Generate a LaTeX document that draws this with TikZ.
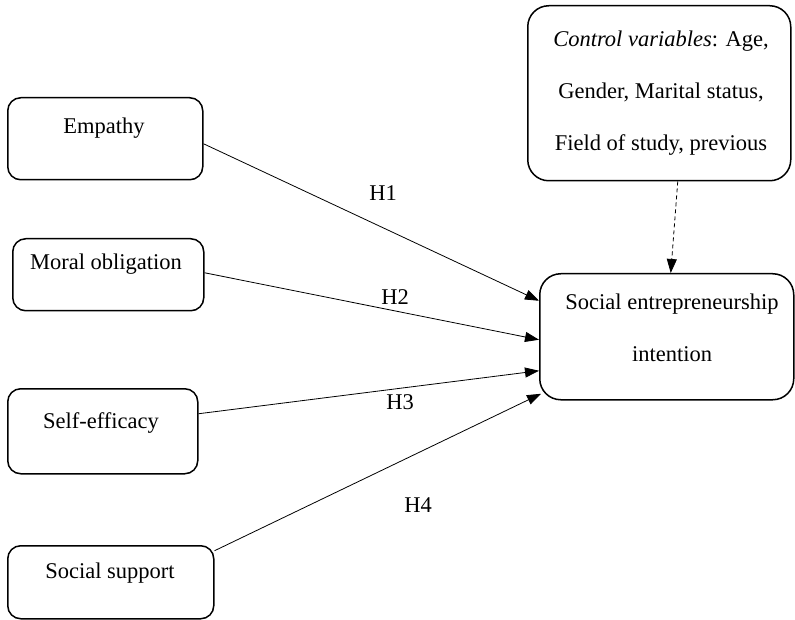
\documentclass[tikz,border=0pt]{standalone}
\usepackage{fontspec}
\setmainfont{Liberation Serif}
\usetikzlibrary{arrows.meta}
\tikzset{
  box/.style={draw, line width=1.5pt, rounded corners=13pt, inner sep=0pt, anchor=north west},
  bigbox/.style={box, rounded corners=21pt},
  txt/.style={font=\fontsize{22.5}{52}\selectfont, inner sep=0pt, align=center},
  hlab/.style={font=\fontsize{22.5}{26}\selectfont, inner sep=0pt},
  link/.style={line width=0.8pt, -{Triangle[length=14pt,width=10pt]}},
  dlink/.style={line width=0.8pt, dashed, dash pattern=on 4pt off 3pt, -{Triangle[length=14pt,width=10pt]}}
}
\begin{document}
\begin{tikzpicture}[x=1pt,y=-1pt]
\useasboundingbox (0,0) rectangle (795,620);
% boxes
\node[box, minimum width=195pt, minimum height=82pt] (emp) at (7,97) {};
\node[box, minimum width=191pt, minimum height=72pt] (mor) at (12,238) {};
\node[box, minimum width=190pt, minimum height=85pt] (self) at (7,388) {};
\node[box, minimum width=206pt, minimum height=73pt] (ss) at (7,545) {};
\node[bigbox, minimum width=263pt, minimum height=175pt] (ctrl) at (527,5) {};
\node[bigbox, minimum width=254pt, minimum height=126pt] (sei) at (539,273) {};
% texts
\node[txt] (temp) at (104,128) {Empathy};
\node[txt] (tmor) at (106,264) {Moral obligation};
\node[txt] (tself) at (101,423) {Self-efficacy};
\node[txt] (tss) at (110,573) {Social support};
\node[txt, anchor=north] (tctrl) at (661,31) {\textit{Control variables}: Age,\\Gender, Marital status,\\Field of study, previous};
\node[txt, anchor=north] (tsei) at (672,294) {Social entrepreneurship\\intention};
% connectors
\draw[link] ([yshift=-5pt]emp.east) -- ([yshift=36pt]sei.west);
\draw[link] ([yshift=2pt]mor.east) -- ([yshift=-3pt]sei.west);
\draw[link] ([yshift=17.5pt]self.east) -- ([yshift=-34pt]sei.west);
\draw[link] ([yshift=31.5pt]ss.east) -- ([xshift=2pt,yshift=-57pt]sei.west);
\draw[dlink] ([xshift=18.5pt]ctrl.south) -- ([xshift=4pt]sei.north);
% labels
\node[hlab] (h1) at (383,193) {H1};
\node[hlab] (h2) at (395,297) {H2};
\node[hlab] (h3) at (400,402) {H3};
\node[hlab] (h4) at (418,505) {H4};
\end{tikzpicture}
\end{document}
